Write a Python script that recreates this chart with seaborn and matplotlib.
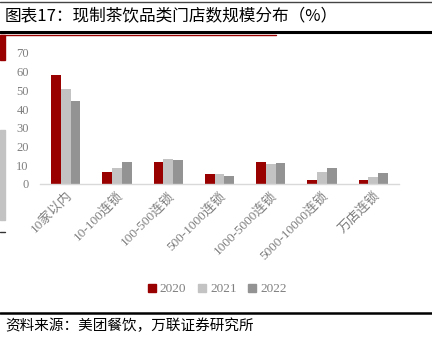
import matplotlib
matplotlib.use("Agg")
import matplotlib.pyplot as plt
from matplotlib.patches import Rectangle
from matplotlib.lines import Line2D
import seaborn as sns
import pandas as pd

categories = ["10家以内", "10-100连锁", "100-500连锁", "500-1000连锁",
              "1000-5000连锁", "5000-10000连锁", "万店连锁"]
years = ["2020", "2021", "2022"]
share_2020 = [58.5, 6.6, 11.6, 5.4, 11.6, 2.3, 2.3]
share_2021 = [50.5, 8.7, 13.2, 5.1, 10.8, 6.4, 3.6]
share_2022 = [44.5, 11.8, 12.7, 4.1, 11.0, 8.4, 5.7]
y_ticks = [0, 10, 20, 30, 40, 50, 60, 70]

title = "图表17：现制茶饮品类门店数规模分布（%）"
source = "资料来源：美团餐饮，万联证券研究所"

colors = ["#990000", "#c3c3c3", "#939393"]

sns.set_theme(style="white")
plt.rcParams["font.family"] = ["Liberation Serif", "Noto Sans CJK SC", "DejaVu Sans"]

df = pd.DataFrame({
    "cat": categories * 3,
    "year": [y for y in years for _ in categories],
    "val": share_2020 + share_2021 + share_2022,
})

fig = plt.figure(figsize=(4.32, 3.45), dpi=100)
ax = fig.add_axes([0.0926, 0.4667, 0.831, 0.3797])

sns.barplot(data=df, x="cat", y="val", hue="year", palette=colors,
            width=0.57, saturation=1, ax=ax, legend=False,
            edgecolor="none", linewidth=0)

ax.set_ylim(0, 70)
ax.set_xlim(-0.5, len(categories) - 0.5)
ax.set_yticks(y_ticks)
ax.set_yticklabels([str(t) for t in y_ticks], color="#7f7f7f", fontsize=9)
ax.set_xticks(range(len(categories)))
ax.set_xticklabels(categories, rotation=45, ha="right", rotation_mode="anchor",
                   color="#7f7f7f", fontsize=9.5)
ax.tick_params(axis="both", length=0, pad=4)
ax.tick_params(axis="y", pad=8)
ax.set_xlabel("")
ax.set_ylabel("")
for s in ["top", "right", "left"]:
    ax.spines[s].set_visible(False)
ax.spines["bottom"].set_color("#d9d9d9")
ax.spines["bottom"].set_linewidth(1.0)

handles = [Line2D([], [], marker="s", linestyle="none", markersize=6,
                  markerfacecolor=c, markeredgecolor=c) for c in colors]
leg = fig.legend(handles, years, loc="center", bbox_to_anchor=(0.5, 0.162),
                 ncol=3, frameon=False, fontsize=9.5, handletextpad=0.1,
                 columnspacing=0.7, handlelength=1.0)
for t in leg.get_texts():
    t.set_color("#7f7f7f")

# page frame: header rules, side marks and footer rule
fig.add_artist(Line2D([0, 1], [1 - 2 / 345, 1 - 2 / 345], color="#444444", lw=1.0,
                      transform=fig.transFigure))
fig.add_artist(Line2D([0, 1], [1 - 31.5 / 345, 1 - 31.5 / 345], color="black", lw=2.2,
                      transform=fig.transFigure))
fig.add_artist(Line2D([0, 276 / 432], [1 - 34.5 / 345, 1 - 34.5 / 345], color="#990000",
                      lw=1.0, transform=fig.transFigure))
fig.add_artist(Rectangle((0, 1 - 60 / 345), 5 / 432, 25 / 345, color="#990000",
                         transform=fig.transFigure))
fig.add_artist(Rectangle((0, 1 - 220 / 345), 5 / 432, 90 / 345, color="#c3c3c3",
                         transform=fig.transFigure))
fig.add_artist(Line2D([0, 5 / 432], [1 - 232 / 345, 1 - 232 / 345], color="#333333",
                      lw=1.0, transform=fig.transFigure))
fig.add_artist(Line2D([0, 1], [1 - 312.5 / 345, 1 - 312.5 / 345], color="black", lw=1.8,
                      transform=fig.transFigure))

fig.text(5 / 432, 1 - 17 / 345, title, fontsize=12, color="black",
         va="center", ha="left", family=["Noto Sans CJK SC", "DejaVu Sans"])
fig.text(5 / 432, 1 - 326 / 345, source, fontsize=10.5, color="black",
         va="center", ha="left", family=["Noto Sans CJK SC", "DejaVu Sans"])

fig.savefig("out.png", dpi=100)
